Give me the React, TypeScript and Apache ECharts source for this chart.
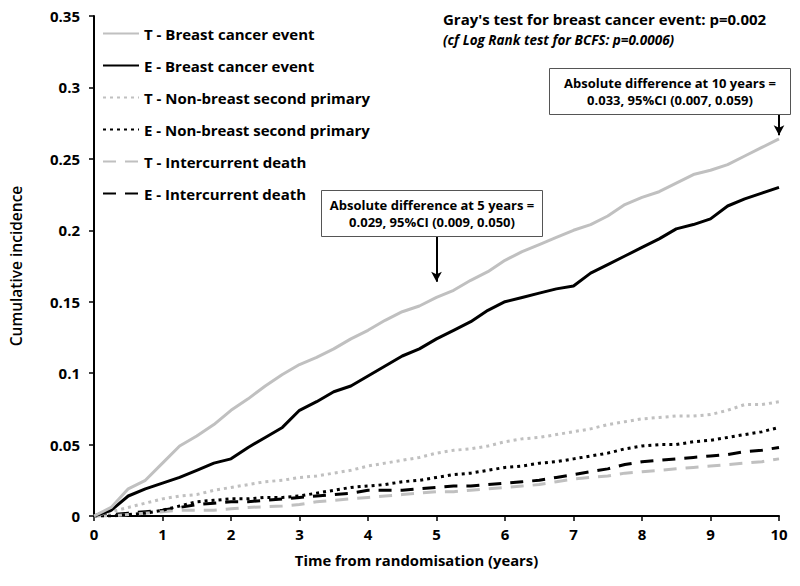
import React, { useEffect, useRef } from "react";
import * as echarts from "echarts";

const times = [0, 0.25, 0.5, 0.75, 1, 1.25, 1.5, 1.75, 2, 2.25, 2.5, 2.75, 3, 3.25, 3.5, 3.75, 4, 4.25, 4.5, 4.75, 5, 5.25, 5.5, 5.75, 6, 6.25, 6.5, 6.75, 7, 7.25, 7.5, 7.75, 8, 8.25, 8.5, 8.75, 9, 9.25, 9.5, 9.75, 10];

const tBreast = [0, 0.006, 0.019, 0.025, 0.037, 0.049, 0.056, 0.064, 0.074, 0.082, 0.091, 0.099, 0.106, 0.111, 0.117, 0.124, 0.130, 0.137, 0.143, 0.147, 0.153, 0.158, 0.165, 0.171, 0.179, 0.185, 0.190, 0.195, 0.200, 0.204, 0.210, 0.218, 0.223, 0.227, 0.233, 0.239, 0.242, 0.246, 0.252, 0.258, 0.264];
const eBreast = [0, 0.004, 0.014, 0.019, 0.023, 0.027, 0.032, 0.037, 0.040, 0.048, 0.055, 0.062, 0.074, 0.080, 0.087, 0.091, 0.098, 0.105, 0.112, 0.117, 0.124, 0.130, 0.136, 0.144, 0.150, 0.153, 0.156, 0.159, 0.161, 0.170, 0.176, 0.182, 0.188, 0.194, 0.201, 0.204, 0.208, 0.217, 0.222, 0.226, 0.230];
const tNonBreast = [0, 0.003, 0.006, 0.009, 0.012, 0.014, 0.015, 0.018, 0.020, 0.022, 0.024, 0.025, 0.027, 0.028, 0.030, 0.032, 0.035, 0.037, 0.039, 0.041, 0.044, 0.046, 0.047, 0.049, 0.052, 0.054, 0.055, 0.057, 0.059, 0.061, 0.064, 0.066, 0.068, 0.069, 0.070, 0.070, 0.071, 0.074, 0.078, 0.078, 0.080];
const eNonBreast = [0, 0, 0.001, 0.002, 0.004, 0.007, 0.010, 0.011, 0.012, 0.012, 0.013, 0.013, 0.014, 0.016, 0.018, 0.020, 0.021, 0.022, 0.024, 0.025, 0.027, 0.029, 0.030, 0.032, 0.034, 0.035, 0.037, 0.038, 0.040, 0.042, 0.044, 0.047, 0.049, 0.050, 0.050, 0.052, 0.053, 0.055, 0.057, 0.059, 0.062];
const tDeath = [0, 0, 0.001, 0.002, 0.003, 0.004, 0.004, 0.004, 0.005, 0.006, 0.0065, 0.007, 0.008, 0.010, 0.011, 0.012, 0.013, 0.014, 0.015, 0.016, 0.017, 0.017, 0.018, 0.019, 0.020, 0.021, 0.022, 0.024, 0.026, 0.027, 0.028, 0.030, 0.031, 0.032, 0.033, 0.034, 0.035, 0.036, 0.037, 0.038, 0.040];
const eDeath = [0, 0.001, 0.002, 0.003, 0.004, 0.006, 0.008, 0.009, 0.010, 0.010, 0.011, 0.012, 0.013, 0.014, 0.015, 0.016, 0.018, 0.018, 0.018, 0.019, 0.020, 0.021, 0.021, 0.022, 0.023, 0.024, 0.025, 0.027, 0.029, 0.031, 0.033, 0.036, 0.038, 0.039, 0.040, 0.041, 0.042, 0.043, 0.045, 0.046, 0.048];

const seriesNames = [
  "T - Breast cancer event",
  "E - Breast cancer event",
  "T - Non-breast second primary",
  "E - Non-breast second primary",
  "T - Intercurrent death",
  "E - Intercurrent death",
];

const titleText = "Gray's test for breast cancer event: p=0.002";
const subtitleText = "(cf Log Rank test for BCFS: p=0.0006)";
const note10 = "Absolute difference at 10 years =\n0.033, 95%CI (0.007, 0.059)";
const note5 = "Absolute difference at 5 years =\n0.029, 95%CI (0.009, 0.050)";
const arrow5 = [[5, 0.196], [5, 0.164]];
const arrow10 = [[10, 0.2815], [10, 0.2665]];

const GRAY = "#c0c0c0";
const BLACK = "#000000";
const FONT = "'Open Sans', Lato, sans-serif";

const pair = (vals: number[]) => vals.map((v, i) => [times[i], v]);

export default function App() {
  const ref = useRef<HTMLDivElement>(null);
  useEffect(() => {
    if (!ref.current) return;
    document.body.style.margin = "0";
    const chart = echarts.init(ref.current, null, { renderer: "svg" });
    const styles = [
      { color: GRAY, type: "solid" as any, width: 3 },
      { color: BLACK, type: "solid" as any, width: 3 },
      { color: GRAY, type: [3, 4] as any, width: 3 },
      { color: BLACK, type: [3, 4] as any, width: 3 },
      { color: GRAY, type: [13, 9] as any, width: 3 },
      { color: BLACK, type: [13, 9] as any, width: 3 },
    ];
    const data = [tBreast, eBreast, tNonBreast, eNonBreast, tDeath, eDeath];
    const arrowMark = (pts: number[][]) => [
      { coord: pts[0], symbol: "none" },
      { coord: pts[1], symbol: "arrow" },
    ];
    const series: any[] = seriesNames.map((name, i) => ({
      name,
      type: "line",
      data: pair(data[i]),
      showSymbol: false,
      symbol: "none",
      lineStyle: styles[i],
      itemStyle: { color: styles[i].color },
      z: 10 - i,
    }));
    series[1].markLine = {
      silent: true,
      symbolSize: [8, 10],
      label: { show: false },
      lineStyle: { color: "#000", width: 2, type: "solid" },
      data: [arrowMark(arrow5) as any, arrowMark(arrow10) as any],
    };
    const axisFont = { fontSize: 15, fontWeight: "bold" as any, color: "#000", fontFamily: FONT };
    chart.setOption({
      animation: false,
      backgroundColor: "#ffffff",
      textStyle: { fontFamily: FONT },
      grid: { left: 88, right: 21, top: 16, bottom: 70 },
      legend: {
        orient: "vertical",
        left: 97,
        top: 21,
        itemWidth: 36,
        itemHeight: 14,
        itemGap: 17,
        itemStyle: { opacity: 0 },
        textStyle: { fontSize: 15, fontWeight: "bold", color: "#000", fontFamily: FONT },
        data: seriesNames,
      },
      xAxis: {
        type: "value",
        min: 0,
        max: 10,
        interval: 1,
        name: "Time from randomisation (years)",
        nameLocation: "middle",
        nameGap: 36,
        nameTextStyle: { fontSize: 14.8, fontWeight: "bold", color: "#000", fontFamily: FONT, padding: [0, 40, 0, 0] },
        axisLine: { lineStyle: { color: "#000", width: 2 } },
        axisTick: { show: true, length: 5, lineStyle: { color: "#000", width: 1.5 } },
        axisLabel: { ...axisFont, margin: 10 },
        splitLine: { show: false },
      },
      yAxis: {
        type: "value",
        min: 0,
        max: 0.35,
        interval: 0.05,
        name: "Cumulative incidence",
        nameLocation: "middle",
        nameGap: 70,
        nameRotate: 90,
        nameTextStyle: { fontSize: 15.5, fontWeight: 600, color: "#000", fontFamily: FONT },
        axisLine: { show: true, lineStyle: { color: "#000", width: 2 } },
        axisTick: { show: true, length: 5, lineStyle: { color: "#000", width: 1.5 } },
        axisLabel: { ...axisFont, margin: 14 },
        splitLine: { show: false },
      },
      series,
      graphic: [
        {
          type: "text",
          left: 443,
          top: 11,
          style: { text: titleText, font: `bold 15px ${FONT}`, fill: "#000", lineHeight: 15 },
        },
        {
          type: "text",
          left: 443,
          top: 33,
          style: { text: subtitleText, font: `italic bold 13.5px ${FONT}`, fill: "#000", lineHeight: 13 },
        },
        {
          type: "rect",
          shape: { x: 549.5, y: 68.5, width: 241, height: 46 },
          style: { fill: "#fff", stroke: "#555", lineWidth: 1 },
          z: 100,
        },
        {
          type: "text",
          x: 670,
          y: 91.5,
          style: { text: note10, font: `bold 13px ${FONT}`, fill: "#000", align: "center", verticalAlign: "middle", lineHeight: 17 },
          z: 101,
        },
        {
          type: "rect",
          shape: { x: 321.5, y: 190.5, width: 221, height: 46 },
          style: { fill: "#fff", stroke: "#555", lineWidth: 1 },
          z: 100,
        },
        {
          type: "text",
          x: 432,
          y: 213.5,
          style: { text: note5, font: `bold 13px ${FONT}`, fill: "#000", align: "center", verticalAlign: "middle", lineHeight: 17 },
          z: 101,
        },
      ],
    });
    return () => chart.dispose();
  }, []);
  return <div ref={ref} style={{ width: 800, height: 586 }} />;
}
